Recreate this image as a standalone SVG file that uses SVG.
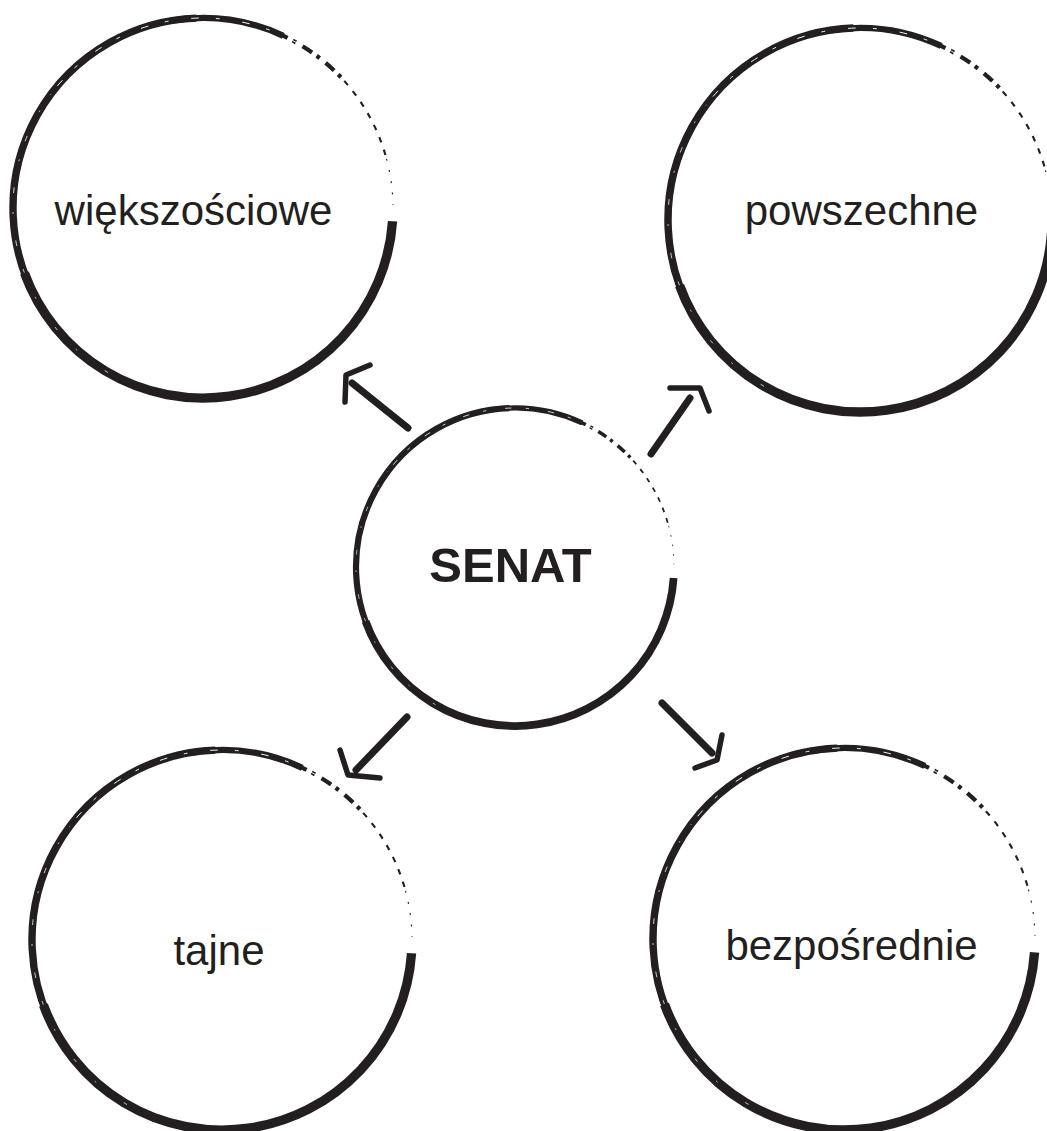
<svg xmlns="http://www.w3.org/2000/svg" xmlns:xlink="http://www.w3.org/1999/xlink" width="1047" height="1131" viewBox="0 0 1047 1131">
<style>
.lbl{font-family:"Liberation Sans",Arial,sans-serif;font-size:42px;fill:#231f20;text-anchor:middle}
.big{font-family:"Liberation Sans",Arial,sans-serif;font-size:49px;font-weight:bold;fill:#231f20;text-anchor:middle}
.br{fill:none;stroke:#231f20;stroke-linecap:butt}
.ar{fill:none;stroke:#231f20;stroke-linecap:round;stroke-linejoin:round}
</style>
<defs>
<g id="ring">
<path class="br" stroke-width="4.9" d="M99.76,6.98 A100,100 0 0 1 -93.97,34.20"/>
<path class="br" stroke-width="3.9" d="M-86.60,50 A100,100 0 0 1 -3.49,-99.94"/>
<path class="br" stroke-width="3.3" d="M-17.36,-98.48 A100,100 0 0 1 42.26,-90.63"/>
<path class="br" stroke-width="2.2" stroke-dasharray="6 3 2 4" d="M39.07,-92.05 A100,100 0 0 1 74.31,-66.91"/>
<path class="br" stroke-width="1.1" stroke-dasharray="3 4" d="M74.31,-66.91 A100,100 0 0 1 96.59,-25.88"/>
<path class="br" stroke-width="0.6" stroke-dasharray="1 5" d="M96.59,-25.88 A100,100 0 0 1 99.98,-1.75"/>
<path fill="none" stroke="#fff" stroke-width="0.5" stroke-dasharray="4 9 2 12" d="M-76.6,-64.28 A100,100 0 0 1 50,-86.6"/>
<path fill="none" stroke="#fff" stroke-width="0.4" stroke-dasharray="3 14 1 10" d="M-98,20 A100,100 0 0 1 -80,-60"/>
<path fill="none" stroke="#fff" stroke-width="0.4" stroke-dasharray="2 18 1 14" d="M-50,86.6 A100,100 0 0 1 -96,28"/>
</g>
</defs>
<g id="connectors">
<path class="ar" stroke-width="7" d="M408,428 L352,383"/>
<path class="ar" stroke-width="5.5" d="M370,365 L346,375 L345,402"/>
<path class="ar" stroke-width="7" d="M651,454 L690,398"/>
<path class="ar" stroke-width="5.5" d="M670,388 L700,388 L709,411"/>
<path class="ar" stroke-width="7" d="M407,717 L356,770"/>
<path class="ar" stroke-width="5.5" d="M340,750 L348,775 L380,778"/>
<path class="ar" stroke-width="7" d="M662,703 L712,753"/>
<path class="ar" stroke-width="5.5" d="M722,735 L717,760 L695,768"/>
</g>
<g id="node-wiekszosciowe">
<use xlink:href="#ring" transform="translate(203,208) scale(1.9)"/>
<text class="lbl" x="193.5" y="225">większościowe</text>
</g>
<g id="node-powszechne">
<use xlink:href="#ring" transform="translate(860,220) scale(1.92)"/>
<text class="lbl" x="861.5" y="225">powszechne</text>
</g>
<g id="node-senat">
<use xlink:href="#ring" transform="translate(515,567) scale(1.59)"/>
<text class="big" x="510.5" y="582">SENAT</text>
</g>
<g id="node-tajne">
<use xlink:href="#ring" transform="translate(222,940) scale(1.9)"/>
<text class="lbl" x="219" y="965">tajne</text>
</g>
<g id="node-bezposrednie">
<use xlink:href="#ring" transform="translate(844,939) scale(1.91)"/>
<text class="lbl" x="851.5" y="960">bezpośrednie</text>
</g>
</svg>
